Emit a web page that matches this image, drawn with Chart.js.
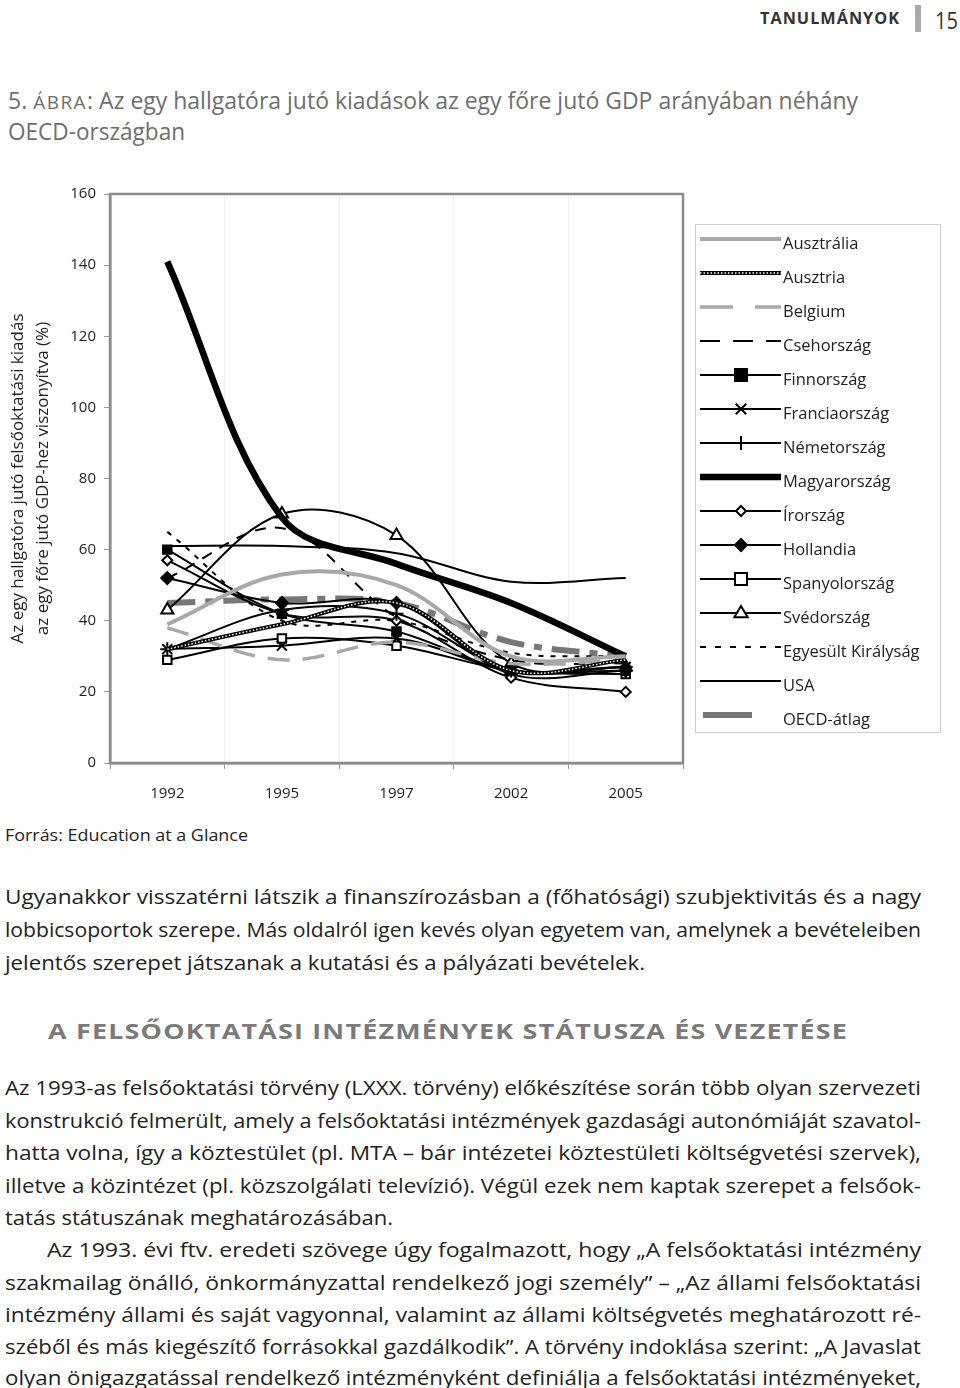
<!DOCTYPE html>
<html lang="hu">
<head>
<meta charset="utf-8">
<title>5. ábra</title>
<script src="https://cdn.jsdelivr.net/npm/chart.js@4/dist/chart.umd.min.js"></script>
<style>
	html, body {
		margin: 0;
		padding: 0;
		background: #fff;
	}
	body {
		position: relative;
		width: 960px;
		height: 1388px;
		overflow: hidden;
		font-family: "Open Sans", "Noto Sans", sans-serif;
		color: #222;
	}
	.ln {
		position: absolute;
		white-space: nowrap;
		line-height: 26px;
		height: 26px;
		transform-origin: 0 50%;
	}
	.body-ln {
		font-size: 20px;
		color: #222;
	}
	.title-ln {
		font-size: 23px;
		color: #6e6e6e;
	}
	#chartBox {
		position: absolute;
		left: 0;
		top: 170px;
		width: 960px;
		height: 650px;
	}
	.bar {
		position: absolute;
		left: 915px;
		top: 5px;
		width: 6px;
		height: 27px;
		background: #aaa;
	}
</style>
</head>
<body>

<div class="ln" data-w="140" style="left:760px;top:5px;font-size:16px;font-weight:700;letter-spacing:1px;color:#333;">TANULMÁNYOK</div>
<div class="bar"></div>
<div class="ln" data-w="23" style="left:935px;top:7px;font-size:24px;color:#333;">15</div>

<div class="ln title-ln" data-w="850" style="left:8px;top:87px;">5. <span style="font-size:19px;letter-spacing:1.5px;">ÁBRA</span>: Az egy hallgatóra jutó kiadások az egy főre jutó GDP arányában néhány</div>
<div class="ln title-ln" data-w="177" style="left:8px;top:118px;">OECD-országban</div>

<div id="chartBox"><canvas id="chart" width="960" height="650"></canvas></div>

<div class="ln" data-w="243" style="left:5px;top:822px;font-size:17px;color:#222;">Forrás: Education at a Glance</div>

<div class="ln body-ln" data-w="916" style="left:5px;top:884px;">Ugyanakkor visszatérni látszik a finanszírozásban a (főhatósági) szubjektivitás és a nagy</div>
<div class="ln body-ln" data-w="916" style="left:5px;top:917px;">lobbicsoportok szerepe. Más oldalról igen kevés olyan egyetem van, amelynek a bevételeiben</div>
<div class="ln body-ln" data-w="640" style="left:5px;top:950px;">jelentős szerepet játszanak a kutatási és a pályázati bevételek.</div>

<div class="ln" data-w="800" style="left:48px;top:1017px;font-size:22px;font-weight:700;letter-spacing:1px;color:#7a7a7a;">A FELSŐOKTATÁSI INTÉZMÉNYEK STÁTUSZA ÉS VEZETÉSE</div>

<div class="ln body-ln" data-w="916" style="left:5px;top:1075px;">Az 1993-as felsőoktatási törvény (LXXX. törvény) előkészítése során több olyan szervezeti</div>
<div class="ln body-ln" data-w="916" style="left:5px;top:1108px;">konstrukció felmerült, amely a felsőoktatási intézmények gazdasági autonómiáját szavatol-</div>
<div class="ln body-ln" data-w="916" style="left:5px;top:1140px;">hatta volna, így a köztestület (pl. MTA – bár intézetei köztestületi költségvetési szervek),</div>
<div class="ln body-ln" data-w="916" style="left:5px;top:1173px;">illetve a közintézet (pl. közszolgálati televízió). Végül ezek nem kaptak szerepet a felsőok-</div>
<div class="ln body-ln" data-w="388" style="left:5px;top:1205px;">tatás státuszának meghatározásában.</div>
<div class="ln body-ln" data-w="874" style="left:47px;top:1237px;">Az 1993. évi ftv. eredeti szövege úgy fogalmazott, hogy „A felsőoktatási intézmény</div>
<div class="ln body-ln" data-w="916" style="left:5px;top:1270px;">szakmailag önálló, önkormányzattal rendelkező jogi személy” – „Az állami felsőoktatási</div>
<div class="ln body-ln" data-w="916" style="left:5px;top:1302px;">intézmény állami és saját vagyonnal, valamint az állami költségvetés meghatározott ré-</div>
<div class="ln body-ln" data-w="916" style="left:5px;top:1334px;">széből és más kiegészítő forrásokkal gazdálkodik”. A törvény indoklása szerint: „A Javaslat</div>
<div class="ln body-ln" data-w="916" style="left:5px;top:1365px;">olyan önigazgatással rendelkező intézményként definiálja a felsőoktatási intézményeket,</div>

<script>
// Adatok (leolvasva az ábráról)
const years = ['1992', '1995', '1997', '2002', '2005'];

const ausztralia = [39, 53, 50, 30, 30];
const ausztria = [32, 39, 45, 26, 29];
const belgium = [38, 29, 34, 28, 29];
const csehorszag = [52, 66, 41, 29, 28];
const finnorszag = [60, 42, 37, 26, 26];
const franciaorszag = [32, 33, 35, 26, 27];
const nemetorszag = [32, 43, 42, 26, 27];
const magyarorszag = [141, 69, 56, 45, 30];
const irorszag = [57, 42, 40, 24, 20];
const hollandia = [52, 45, 45, 25, 26];
const spanyolorszag = [29, 35, 33, 26, 25];
const svedorszag = [43, 70, 64, 28, 27];
const egyesultKiralysag = [65, 40, 40, 31, 30];
const usa = [61, 61, 59, 51, 52];
const oecdAtlag = [45, 46, 45, 34, 30];

const yMin = 0;
const yMax = 160;
const yStep = 20;

const yTitle = [
	'Az egy hallgatóra jutó felsőoktatási kiadás',
	'az egy főre jutó GDP-hez viszonyítva (%)'
];

const GREY_LIGHT = '#a8a8a8';
const GREY_DARK = '#777777';

// sorozatok stílusa
const series = [
	{ label: 'Ausztrália', data: ausztralia, color: GREY_LIGHT, width: 4, dash: [], marker: null },
	{ label: 'Ausztria', data: ausztria, color: '#000', width: 4, dash: [], marker: null, checker: true },
	{ label: 'Belgium', data: belgium, color: GREY_LIGHT, width: 3.5, dash: [22, 13], marker: null, legendDash: [33, 22] },
	{ label: 'Csehország', data: csehorszag, color: '#000', width: 2, dash: [11, 9], marker: null, legendDash: [20, 13] },
	{ label: 'Finnország', data: finnorszag, color: '#000', width: 2, dash: [], marker: 'rect', fill: '#000', radius: 6 },
	{ label: 'Franciaország', data: franciaorszag, color: '#000', width: 2, dash: [], marker: 'crossRot', fill: '#000', radius: 7 },
	{ label: 'Németország', data: nemetorszag, color: '#000', width: 2, dash: [], marker: 'cross', fill: '#000', radius: 7 },
	{ label: 'Magyarország', data: magyarorszag, color: '#000', width: 6.5, dash: [], marker: null },
	{ label: 'Írország', data: irorszag, color: '#000', width: 2, dash: [], marker: 'rectRot', fill: '#fff', radius: 5 },
	{ label: 'Hollandia', data: hollandia, color: '#000', width: 2, dash: [], marker: 'rectRot', fill: '#000', radius: 6 },
	{ label: 'Spanyolország', data: spanyolorszag, color: '#000', width: 2, dash: [], marker: 'rect', fill: '#fff', radius: 6 },
	{ label: 'Svédország', data: svedorszag, color: '#000', width: 2, dash: [], marker: 'triangle', fill: '#fff', radius: 7 },
	{ label: 'Egyesült Királyság', data: egyesultKiralysag, color: '#000', width: 2, dash: [5, 7], marker: null, legendDash: [6, 9] },
	{ label: 'USA', data: usa, color: '#000', width: 2, dash: [], marker: null },
	{ label: 'OECD-átlag', data: oecdAtlag, color: GREY_DARK, width: 6, dash: [28, 10, 8, 10], marker: null }
];

const datasets = [];
series.forEach((s) => {
	const base = {
		label: s.label,
		data: s.data,
		borderColor: s.color,
		borderWidth: s.width,
		borderDash: s.dash,
		tension: 0.35,
		fill: false,
		pointStyle: s.marker || 'circle',
		pointRadius: s.marker ? s.radius : 0,
		pointBackgroundColor: s.fill || s.color,
		pointBorderColor: '#000',
		pointBorderWidth: 2
	};
	if (s.checker) {
		// fehér pöttyös sáv a fekete vonalon (Ausztria mintázata)
		datasets.push({
			label: '_ausztria_minta',
			data: s.data,
			borderColor: '#fff',
			borderWidth: 1.5,
			borderDash: [1.5, 2],
			tension: 0.35,
			fill: false,
			pointRadius: 0
		});
	}
	datasets.push(base);
});

// keret a rajzterület körül
const frame = {
	id: 'frame',
	afterDraw(chart) {
		const { ctx, chartArea: a } = chart;
		ctx.save();
		ctx.strokeStyle = '#8c8c8c';
		ctx.lineWidth = 2.5;
		ctx.strokeRect(a.left, a.top, a.right - a.left, a.bottom - a.top);
		ctx.restore();
	}
};

function drawMarker(ctx, style, x, y, r, fillColor) {
	ctx.save();
	ctx.strokeStyle = '#000';
	ctx.fillStyle = fillColor;
	ctx.lineWidth = 2;
	ctx.beginPath();
	if (style === 'rect') {
		ctx.rect(x - r, y - r, 2 * r, 2 * r);
		ctx.fill();
		ctx.stroke();
	} else if (style === 'rectRot') {
		ctx.moveTo(x, y - r);
		ctx.lineTo(x + r, y);
		ctx.lineTo(x, y + r);
		ctx.lineTo(x - r, y);
		ctx.closePath();
		ctx.fill();
		ctx.stroke();
	} else if (style === 'triangle') {
		ctx.moveTo(x, y - r);
		ctx.lineTo(x + r * 0.95, y + r * 0.6);
		ctx.lineTo(x - r * 0.95, y + r * 0.6);
		ctx.closePath();
		ctx.fill();
		ctx.stroke();
	} else if (style === 'crossRot') {
		const d = r * 0.75;
		ctx.moveTo(x - d, y - d);
		ctx.lineTo(x + d, y + d);
		ctx.moveTo(x + d, y - d);
		ctx.lineTo(x - d, y + d);
		ctx.stroke();
	} else if (style === 'cross') {
		ctx.moveTo(x, y - r);
		ctx.lineTo(x, y + r);
		ctx.stroke();
	}
	ctx.restore();
}

// jelmagyarázat a jobb oldalon
const sideLegend = {
	id: 'sideLegend',
	afterDraw(chart) {
		const ctx = chart.ctx;
		const box = { x: 695, y: 54, w: 245, h: 508 };
		ctx.save();
		ctx.strokeStyle = '#d0d0d0';
		ctx.lineWidth = 1;
		ctx.strokeRect(box.x + 0.5, box.y + 0.5, box.w, box.h);

		ctx.font = '16.5px "Open Sans", "Noto Sans", sans-serif';
		ctx.textBaseline = 'middle';
		ctx.fillStyle = '#222';

		series.forEach((s, i) => {
			const ty = 74 + i * 34;
			const ly = ty - 5;
			let x0 = 700, x1 = 781;
			ctx.save();
			ctx.strokeStyle = s.color;
			ctx.lineWidth = s.width;
			if (s.label === 'OECD-átlag') {
				x0 = 703; x1 = 752;
			}
			ctx.setLineDash(s.legendDash || []);
			ctx.beginPath();
			ctx.moveTo(x0, ly);
			ctx.lineTo(x1, ly);
			ctx.stroke();
			if (s.checker) {
				ctx.strokeStyle = '#fff';
				ctx.lineWidth = 1.5;
				ctx.setLineDash([1.5, 2]);
				ctx.beginPath();
				ctx.moveTo(x0, ly);
				ctx.lineTo(x1, ly);
				ctx.stroke();
			}
			ctx.restore();
			if (s.marker) {
				drawMarker(ctx, s.marker, 741, ly, s.radius, s.fill);
			}
			ctx.fillText(s.label, 783, ty);
		});
		ctx.restore();
	}
};

const ctx = document.getElementById('chart');

new Chart(ctx, {
	type: 'line',
	data: {
		labels: years,
		datasets: datasets
	},
	options: {
		responsive: false,
		animation: false,
		events: [],
		layout: {
			padding: { top: 24, right: 277, left: 0, bottom: 0 }
		},
		plugins: {
			legend: { display: false },
			tooltip: { enabled: false }
		},
		scales: {
			x: {
				offset: true,
				grid: {
					offset: true,
					color: '#efefef',
					tickColor: '#9a9a9a',
					tickLength: 6,
					lineWidth: 1
				},
				border: { color: '#8c8c8c', width: 2.5 },
				ticks: {
					color: '#222',
					padding: 16,
					font: { family: '"Open Sans", "Noto Sans", sans-serif', size: 15 },
					maxRotation: 0
				},
				afterFit(scale) {
					scale.height = 57;
				}
			},
			y: {
				min: yMin,
				max: yMax,
				ticks: {
					stepSize: yStep,
					color: '#222',
					padding: 8,
					font: { family: '"Open Sans", "Noto Sans", sans-serif', size: 15 }
				},
				grid: {
					drawOnChartArea: false,
					tickColor: '#9a9a9a',
					tickLength: 6
				},
				border: { color: '#8c8c8c', width: 2.5 },
				title: {
					display: true,
					text: yTitle,
					color: '#222',
					padding: { top: 6, bottom: 0 },
					font: { family: '"Open Sans", "Noto Sans", sans-serif', size: 17, lineHeight: 1.45 }
				},
				afterFit(scale) {
					scale.width = 110;
				}
			}
		}
	},
	plugins: [frame, sideLegend]
});

// sorok szélességének illesztése
function fitLines() {
	document.querySelectorAll('.ln[data-w]').forEach((el) => {
		const target = Number(el.dataset.w);
		el.style.transform = 'none';
		const w = el.getBoundingClientRect().width;
		if (w > 0) {
			el.style.transform = 'scaleX(' + (target / w) + ')';
		}
	});
}
fitLines();
if (document.fonts && document.fonts.ready) {
	document.fonts.ready.then(fitLines);
}
</script>
</body>
</html>
